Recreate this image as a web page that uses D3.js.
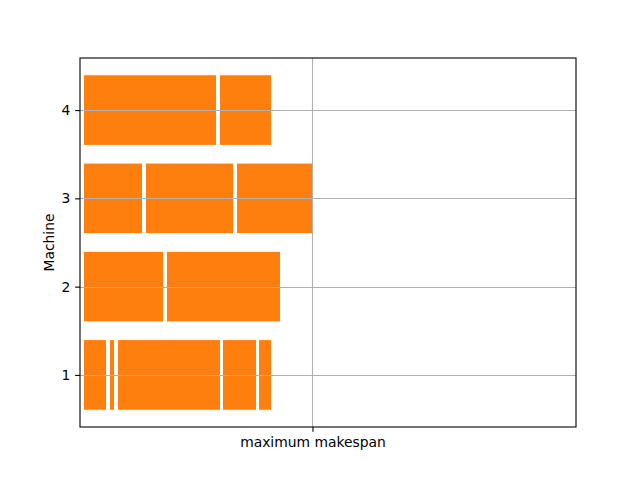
<!DOCTYPE html>
<html><head><meta charset="utf-8">
<script src="https://cdn.jsdelivr.net/npm/d3@7"></script>
<style>body{margin:0;background:#fff}svg{display:block}text{font-family:"DejaVu Sans",sans-serif}</style>
</head><body>
<div id="chart"></div>
<script>
// Data (time units): per machine, each task's start and end
const machines = [1, 2, 3, 4];
const taskMachine = [1, 1, 1, 1, 1, 2, 2, 3, 3, 3, 4, 4];
const taskStart   = [0, 26, 34, 139, 175, 0, 83, 0, 62, 153, 0, 136];
const taskEnd     = [23, 31, 137, 173, 188, 80, 197, 59, 150, 229, 133, 188];
const makespan = 229;
const xTickLabels = ["maximum makespan"];
const yLabel = "Machine";

const W = 640, H = 480;
const m = {left: 80, right: 64, top: 58, bottom: 53};
const FS = 13.89;
const svg = d3.select("#chart").append("svg").attr("width", W).attr("height", H);

const x = d3.scaleLinear().domain([-3.5, 492.5]).range([m.left, W - m.right]);
const y = d3.scaleLinear().domain([0.41, 4.59]).range([H - m.bottom, m.top]);
const barH = 0.8;

const g = svg.append("g");
// bars
g.selectAll("rect.bar").data(taskStart.map((s, i) => ({s, e: taskEnd[i], mc: taskMachine[i]})))
  .enter().append("rect")
  .attr("x", d => x(d.s)).attr("width", d => x(d.e) - x(d.s))
  .attr("y", d => y(d.mc + barH / 2)).attr("height", d => y(d.mc - barH / 2) - y(d.mc + barH / 2))
  .attr("fill", "#ff7f0e").attr("stroke", "#fff").attr("stroke-width", 1);

// grid (above bars, like matplotlib default)
g.selectAll("line.gy").data(machines).enter().append("line")
  .attr("x1", m.left).attr("x2", W - m.right)
  .attr("y1", d => Math.round(y(d)) + 0.5).attr("y2", d => Math.round(y(d)) + 0.5)
  .attr("stroke", "#b0b0b0").attr("stroke-width", 1.1);
g.append("line")
  .attr("x1", Math.round(x(makespan)) - 0.5).attr("x2", Math.round(x(makespan)) - 0.5)
  .attr("y1", m.top).attr("y2", H - m.bottom)
  .attr("stroke", "#b0b0b0").attr("stroke-width", 1.1);

// axes
const xAxis = d3.axisBottom(x).tickValues([makespan]).tickFormat(() => xTickLabels[0]).tickSizeOuter(0).tickSize(4.86).tickPadding(5.5);
const yAxis = d3.axisLeft(y).tickValues(machines).tickFormat(d3.format("d")).tickSizeOuter(0).tickSize(4.86).tickPadding(4.86);
const gx = svg.append("g").attr("transform", `translate(0,${H - m.bottom})`).call(xAxis);
const gy = svg.append("g").attr("transform", `translate(${m.left},0)`).call(yAxis);
[gx, gy].forEach(a => {
  a.select(".domain").remove();
  a.selectAll("text").attr("font-size", FS).attr("font-family", "DejaVu Sans").attr("fill", "#000");
  a.selectAll("line").attr("stroke", "#000").attr("stroke-width", 1.1);
});

// frame
svg.append("rect").attr("x", m.left).attr("y", m.top)
  .attr("width", W - m.left - m.right).attr("height", H - m.top - m.bottom)
  .attr("fill", "none").attr("stroke", "#000").attr("stroke-width", 1.1);

svg.append("text").attr("transform", `translate(${54},${(m.top + H - m.bottom) / 2}) rotate(-90)`)
  .attr("text-anchor", "middle").attr("font-size", FS).text(yLabel);
</script>
</body></html>
